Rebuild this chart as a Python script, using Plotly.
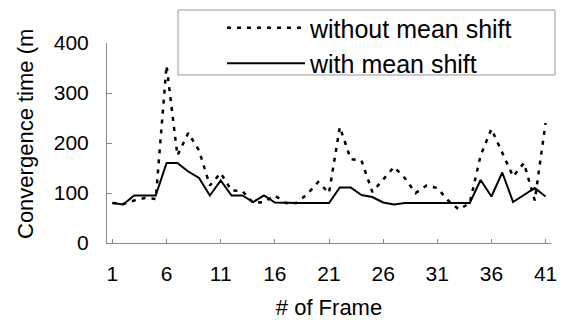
import plotly.graph_objects as go

frames = list(range(1, 42))
without_ms = [80, 78, 85, 90, 88, 355, 175, 220, 185, 115,
              140, 105, 104, 80, 82, 95, 80, 80, 98, 122,
              100, 232, 168, 165, 102, 128, 152, 130, 100, 115,
              110, 85, 67, 80, 175, 228, 180, 133, 160, 85,
              240]
with_ms = [80, 77, 95, 95, 95, 160, 160, 143, 130, 95,
           125, 95, 95, 82, 95, 81, 80, 80, 80, 80,
           80, 111, 111, 96, 92, 81, 77, 80, 80, 80,
           80, 80, 80, 80, 126, 93, 141, 82, 96, 110,
           93]
x_ticks = [1, 6, 11, 16, 21, 26, 31, 36, 41]
y_ticks = [0, 100, 200, 300, 400]

FONT = "Liberation Sans, Arial, sans-serif"

fig = go.Figure()
fig.add_trace(go.Scatter(x=frames, y=without_ms, mode="lines", name="without mean shift",
                         line=dict(color="black", width=2.5, dash="4px,6px")))
fig.add_trace(go.Scatter(x=frames, y=with_ms, mode="lines", name="with mean shift",
                         line=dict(color="black", width=2)))

# page has an 8px body margin, so the figure is 8px smaller and margins are reduced by 8
fig.update_layout(
    width=558, height=312,
    margin=dict(l=99, r=15, t=35, b=77, autoexpand=False),
    paper_bgcolor="white", plot_bgcolor="white",
    font=dict(family=FONT, color="black", size=21),
    showlegend=True,
    legend=dict(x=(222 - 107) / 444, y=1.19, xanchor="left", yanchor="top",
                bgcolor="rgba(0,0,0,0)", borderwidth=0,
                font=dict(size=25), itemwidth=78, tracegroupgap=0),
    xaxis=dict(range=[0.5, 41.5], tickvals=x_ticks, ticktext=[str(v) for v in x_ticks],
               showgrid=False, zeroline=False, showline=True, linecolor="#888", linewidth=1,
               ticks="inside", ticklen=4, tickcolor="#888", ticklabelstandoff=12,
               title=dict(text="# of Frame", font=dict(size=22), standoff=22)),
    yaxis=dict(range=[0, 400], tickvals=y_ticks, showgrid=False, zeroline=False,
               showline=True, linecolor="#888", linewidth=1,
               ticks="inside", ticklen=5, tickcolor="#888", ticklabelstandoff=13),
    shapes=[dict(type="rect", xref="paper", yref="paper",
                 x0=(178 - 107) / 444, x1=(555 - 107) / 444,
                 y0=(243 - 75) / 200, y1=(243 - 10) / 200,
                 line=dict(color="#999", width=1), fillcolor="rgba(0,0,0,0)")],
    annotations=[dict(text="Convergence time (m", xref="paper", yref="paper",
                      x=(26 - 107) / 444, y=(243 - 134) / 200, textangle=-90,
                      showarrow=False, font=dict(size=22), xanchor="center", yanchor="middle")],
)

fig.write_html("out.html")
